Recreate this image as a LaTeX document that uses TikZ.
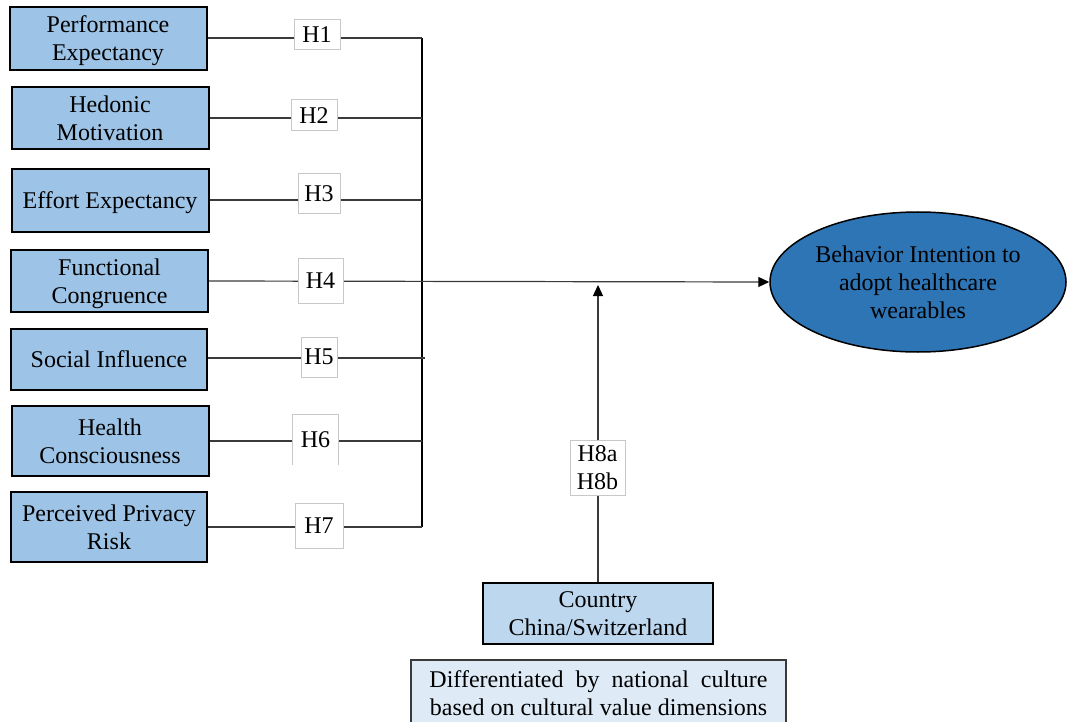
\documentclass[tikz,border=0pt]{standalone}
\usepackage{fontspec}
\setmainfont{Liberation Serif}
\usetikzlibrary{arrows.meta,shapes.geometric}
\definecolor{boxblue}{HTML}{9DC3E6}
\definecolor{darkblue}{HTML}{2E75B6}
\definecolor{midblue}{HTML}{BDD7EE}
\definecolor{paleblue}{HTML}{DEEBF7}
\definecolor{hgray}{HTML}{C8C8C8}
\definecolor{linegray}{HTML}{3A3A3A}
\begin{document}
\begin{tikzpicture}[x=1pt,y=-1pt,
  every node/.style={font=\fontsize{24}{28}\selectfont, align=center, inner sep=0pt},
  construct/.style={draw=black, line width=2pt, fill=boxblue, minimum width=197pt, minimum height=62pt, text depth=-2pt},
  hyp/.style={draw=hgray, line width=1pt, fill=white},
  link/.style={draw=linegray, line width=1.2pt},
  arr/.style={link, -{Triangle[length=11pt,width=10pt,color=black]}}]
\useasboundingbox (0,0) rectangle (1068,722);

% predictor constructs
\node[construct, minimum height=63pt] (p1) at (108,38.5) {Performance\\Expectancy};
\node[construct] (p2) at (110,118) {Hedonic\\Motivation};
\node[construct, minimum height=63pt] (p3) at (110,200.5) {Effort Expectancy};
\node[construct] (p4) at (109.5,281) {Functional\\Congruence};
\node[construct, minimum width=196pt, minimum height=61pt] (p5) at (109,359.5) {Social Influence};
\node[construct, minimum height=70pt] (p6) at (110,441) {Health\\Consciousness};
\node[construct, minimum width=196pt, minimum height=70pt] (p7) at (109,527) {Perceived Privacy\\Risk};

% outcome
\node[ellipse, draw=black, line width=1.5pt, fill=darkblue, minimum width=296pt, minimum height=140pt] (bi) at (918,282) {Behavior Intention to\\adopt healthcare\\wearables};

% moderator
\node[draw=black, line width=2pt, fill=midblue, minimum width=230pt, minimum height=61pt] (ct) at (598,613.5) {Country\\China/Switzerland};
\node[draw=linegray, line width=1.5pt, fill=paleblue, minimum width=375pt, minimum height=66pt] (nc) at (598.5,693) {Differentiated\ \ by\ \ national\ \ culture\\based on cultural value dimensions};

% collector bar
\coordinate (j1) at (422,38);
\coordinate (j2) at (422,118);
\coordinate (j3) at (422,200);
\coordinate (j5) at (425,358);
\coordinate (j6) at (422,441);
\coordinate (j7) at (422,527);
\coordinate (m) at (598,285);

\draw[black, line width=1.3pt] (j1) -- (j7);
\draw[link] (p1.east |- j1) -- (j1);
\draw[link] (p2.east |- j2) -- (j2);
\draw[link] (p3.east |- j3) -- (j3);
\draw[arr] (p4.east) -- (bi.west);
\draw[link] (p5.east |- j5) -- (j5);
\draw[link] (p6.east |- j6) -- (j6);
\draw[link] (p7.east |- j7) -- (j7);
\draw[arr] (ct.north) -- (m);

% hypothesis labels
\node[hyp, minimum width=46pt, minimum height=30pt] (h1) at (317,35) {H1};
\node[hyp, minimum width=46pt, minimum height=31pt] (h2) at (314,115.5) {H2};
\node[hyp, minimum width=42pt, minimum height=40pt] (h3) at (319,194) {H3};
\node[hyp, minimum width=45pt, minimum height=45pt] (h4) at (320.5,280.5) {H4};
\node[hyp, minimum width=36pt, minimum height=40pt] (h5) at (319,357) {H5};
\node[fill=white, minimum width=45pt, minimum height=50pt] (h6) at (315.5,440) {H6};
\draw[hgray, line width=1pt] (h6.south west) -- (h6.north west) -- (h6.north east) -- (h6.south east);
\node[hyp, minimum width=48pt, minimum height=45pt] (h7) at (319,525.5) {H7};
\node[hyp, minimum width=55pt, minimum height=55pt] (h8) at (597.5,467.5) {H8a\\H8b};
\end{tikzpicture}
\end{document}
